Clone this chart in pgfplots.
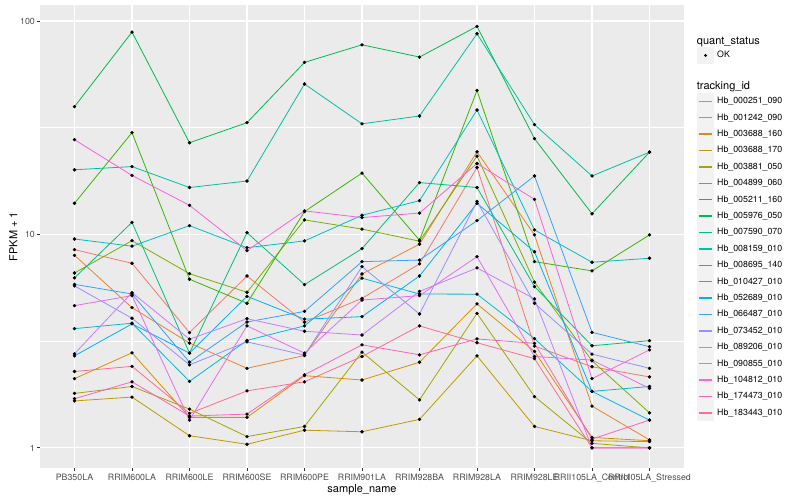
\documentclass[border=0pt]{standalone}
\usepackage{fontspec}
\setmainfont{TeX Gyre Heros}
\usepackage{pgfplots}
\usepackage{pgfplotstable}
\pgfplotsset{compat=1.18}

% ggplot hue palette, 20 levels
\definecolor{c1}{HTML}{F8766D}
\definecolor{c2}{HTML}{EA8331}
\definecolor{c3}{HTML}{D89000}
\definecolor{c4}{HTML}{C09B00}
\definecolor{c5}{HTML}{A3A500}
\definecolor{c6}{HTML}{7CAE00}
\definecolor{c7}{HTML}{39B600}
\definecolor{c8}{HTML}{00BB4E}
\definecolor{c9}{HTML}{00BF7D}
\definecolor{c10}{HTML}{00C1A3}
\definecolor{c11}{HTML}{00BFC4}
\definecolor{c12}{HTML}{00BAE0}
\definecolor{c13}{HTML}{00B0F6}
\definecolor{c14}{HTML}{35A2FF}
\definecolor{c15}{HTML}{9590FF}
\definecolor{c16}{HTML}{C77CFF}
\definecolor{c17}{HTML}{E76BF3}
\definecolor{c18}{HTML}{FA62DB}
\definecolor{c19}{HTML}{FF62BC}
\definecolor{c20}{HTML}{FF6C91}
\definecolor{panel}{HTML}{EBEBEB}
\definecolor{tickgrey}{HTML}{333333}
\definecolor{labgrey}{HTML}{4D4D4D}
\definecolor{keygrey}{HTML}{F2F2F2}

% FPKM + 1, one row per sample, one column per tracking_id
\pgfplotstableread{
x  s1   s2   s3   s4   s5   s6   s7   s8   s9   s10  s11  s12  s13  s14  s15  s16  s17  s18  s19  s20
0  8.49 7.99 2.11 1.66 1.80 6.60 14.0 39.7 6.26 20.1 9.52 3.62 2.70 5.84 5.74 2.76 4.64 27.8 1.70 2.28
1  7.33 4.54 2.79 1.73 1.94 9.35 30.0 88.8 11.4 20.8 8.81 3.84 3.81 5.26 4.05 5.34 5.17 18.9 2.04 2.41
2  3.47 3.10 1.39 1.14 1.52 6.55 6.17 26.9 2.78 16.6 11.0 2.05 2.78 2.52 2.45 3.23 1.35 13.7 1.41 1.45
3  6.39 2.36 1.39 1.04 1.13 5.36 4.76 33.4 10.2 17.8 8.67 3.19 5.13 3.89 3.14 4.03 3.73 8.40 1.44 1.85
4  3.88 2.71 2.18 1.21 1.26 11.7 12.8 64.0 5.82 50.7 9.33 3.73 4.01 4.36 2.72 3.52 2.78 12.9 2.20 2.04
5  5.02 6.53 2.08 1.19 2.81 10.6 19.4 77.4 8.58 33.0 12.3 6.24 4.12 7.46 7.07 3.38 4.93 12.0 3.04 2.68
6  7.28 9.00 2.52 1.36 1.68 9.30 9.40 67.8 17.5 35.9 14.4 5.26 6.39 7.59 4.24 5.41 5.17 12.6 2.73 3.73
7  20.6 24.4 4.73 2.70 4.27 23.3 47.3 94.4 16.6 87.2 38.3 5.25 14.0 11.6 14.3 6.97 7.87 21.5 3.24 3.11
8  3.00 9.95 2.83 1.26 1.74 5.98 7.46 28.1 5.70 32.7 10.5 3.25 8.30 18.8 4.76 4.99 2.68 14.6 3.09 2.62
9  2.40 1.57 1.12 1.08 1.05 2.56 6.75 12.5 3.01 18.8 7.41 1.84 1.84 3.48 2.75 1.00 2.58 2.11 1.10 1.00
10 2.15 1.09 1.08 1.07 1.00 1.46 9.95 24.3 3.18 24.3 7.74 1.94 1.35 2.98 2.36 1.00 1.90 2.88 1.35 1.00
}\fpkm

\begin{document}
\begin{tikzpicture}
\path[use as bounding box] (-40pt,-32pt) rectangle (760pt,468pt);
\begin{axis}[
  at={(0,0)}, anchor=south west,
  scale only axis, width=644pt, height=463pt,
  ymode=log,
  xmin=-0.6, xmax=10.6, ymin=0.805, ymax=118.9,
  xtick={0,...,10},
  xticklabels={PB350LA,RRIM600LA,RRIM600LE,RRIM600SE,RRIM600PE,RRIM901LA,RRIM928BA,RRIM928LA,RRIM928LE,RRII105LA\_Control,RRII105LA\_Stressed},
  ytick={1,10,100}, yticklabels={1,10,100},
  minor ytick={3.1623,31.623},
  tick pos=left,
  xmajorgrids, ymajorgrids, yminorgrids,
  major grid style={white, line width=1.07pt},
  minor grid style={white, line width=0.53pt},
  axis background/.style={fill=panel},
  axis line style={draw=none},
  tick align=outside, major tick length=2.75pt, minor tick length=0pt,
  tick style={tickgrey, line width=0.8pt},
  /pgf/number format/assume math mode=true,
  ticklabel style={font=\fontsize{8.8}{10}\selectfont, text=labgrey, inner sep=0pt},
  xticklabel style={anchor=north, yshift=-3.2pt},
  yticklabel style={anchor=east, xshift=-2.2pt},
  xlabel={sample\_name}, ylabel={FPKM + 1},
  label style={font=\fontsize{11}{13}\selectfont},
  xlabel style={at={(axis description cs:0.5,-0.0458)}, anchor=center},
  ylabel style={at={(axis description cs:-0.0415,0.5)}, anchor=center},
  legend style={at={(1.0197,0.9395)}, anchor=north west, draw=none, fill=none,
    inner sep=0pt, row sep=0pt, column sep=3pt,
    nodes={inner sep=0pt, font=\fontsize{8.8}{10}\selectfont}},
  legend cell align=left,
  legend image code/.code={
    \fill[keygrey, draw=none] (0pt,-8.2pt) rectangle (17.3pt,8.2pt);
    \draw[#1, line width=1.4pt] (1.7pt,0pt) -- (15.6pt,0pt);},
  legend entries={
    {\fontsize{11}{13}\selectfont\hspace*{-20.3pt}quant\_status},
    OK,
    {\fontsize{11}{13}\selectfont\hspace*{-20.3pt}tracking\_id},
    Hb\_000251\_090, Hb\_001242\_090, Hb\_003688\_160, Hb\_003688\_170,
    Hb\_003881\_050, Hb\_004899\_060, Hb\_005211\_160, Hb\_005976\_050,
    Hb\_007590\_070, Hb\_008159\_010, Hb\_008695\_140, Hb\_010427\_010,
    Hb\_052689\_010, Hb\_066487\_010, Hb\_073452\_010, Hb\_089206\_010,
    Hb\_090855\_010, Hb\_104812\_010, Hb\_174473\_010, Hb\_183443\_010},
]
\addlegendimage{legend image code/.code={\path[draw=none, fill=none] (0pt,-6pt) rectangle (17.3pt,8pt);}}
\addlegendimage{legend image code/.code={
    \fill[keygrey, draw=none] (0pt,-8.2pt) rectangle (17.3pt,8.2pt);
    \fill[black, draw=none] (8.65pt,0pt) circle (1.6pt);}}
\addlegendimage{legend image code/.code={\path[draw=none, fill=none] (0pt,-7pt) rectangle (17.3pt,22.5pt);}}

\pgfplotsinvokeforeach{1,...,20}{
  \addplot[c#1, mark=none, line width=0.8pt] table[x=x, y=s#1] {\fpkm};
}
\pgfplotsinvokeforeach{1,...,20}{
  \addplot[forget plot, only marks, mark=*, mark size=1.5pt, black] table[x=x, y=s#1] {\fpkm};
}
\end{axis}
\end{tikzpicture}
\end{document}
